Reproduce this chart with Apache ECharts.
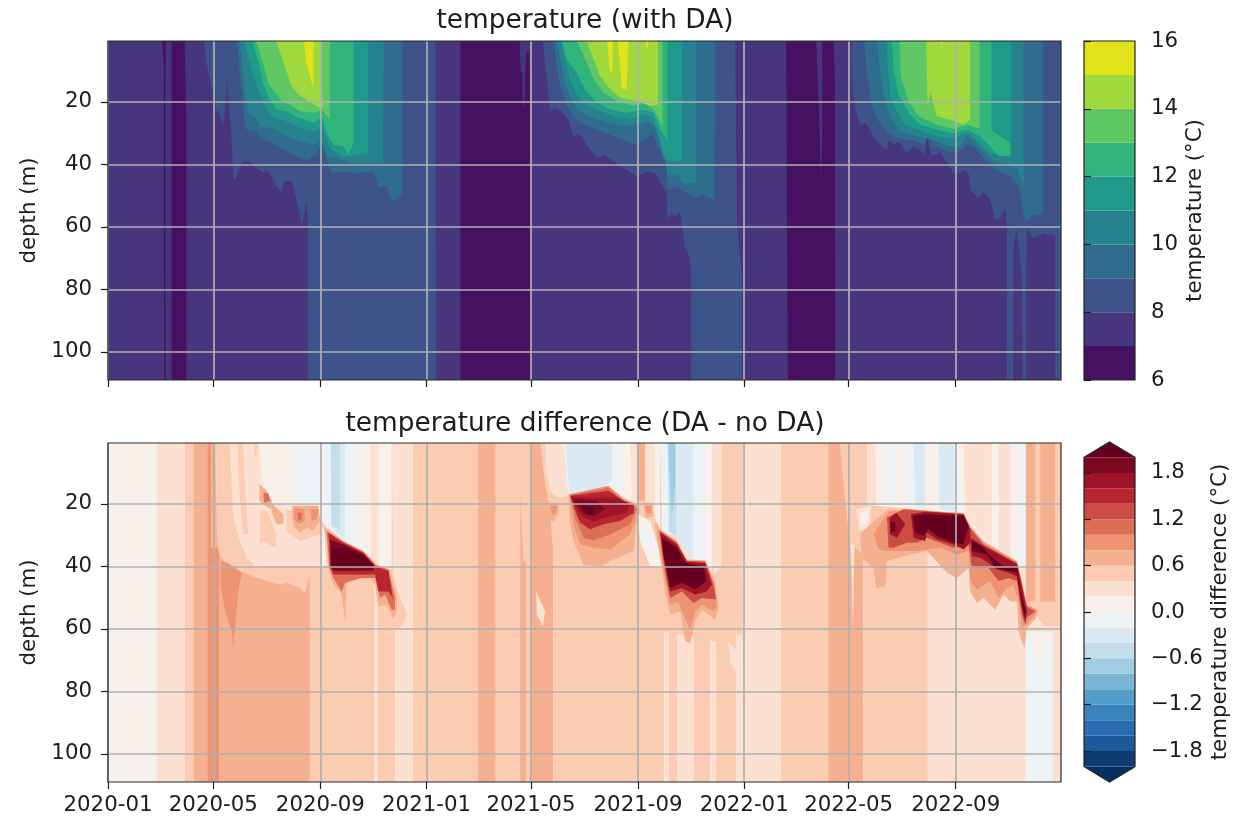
<!DOCTYPE html>
<html><head><meta charset="utf-8"><style>html,body{margin:0;background:#fff}#c{width:1258px;height:819px;filter:blur(0.45px)}</style>
<script src="https://cdn.jsdelivr.net/npm/echarts@6/dist/echarts.min.js"></script></head><body><div id="c"></div>
<script>
// x values are days since 2020-01-01, y values are depth in metres.
const startDate = '2020-01-01', endDay = 1095, depthMin = 0.5, depthMax = 109;
const xTickLabels = ['2020-01','2020-05','2020-09','2021-01','2021-05','2021-09','2022-01','2022-05','2022-09'];
const depthTicks = [20,40,60,80,100];
const tempLevels = [6,7,8,9,10,11,12,13,14,15,16];
const tempTicks = [6,8,10,12,14,16];
const tempColors = ['#461160','#47367e','#3e538a','#2f6c8d','#26828e','#1f9a8a','#30b47c','#5fc863','#9fd93c','#e2e318'];
const diffLevels = [-2,-1.8,-1.6,-1.4,-1.2,-1,-0.8,-0.6,-0.4,-0.2,0,0.2,0.4,0.6,0.8,1,1.2,1.4,1.6,1.8,2];
const diffTicks = [-1.8,-1.2,-0.6,0,0.6,1.2,1.8];
const diffColors = ['#053061','#0f3d6f','#1c5a9c','#2a6cb0','#3983bb','#549ec9','#7bb6d6','#a0cde2','#c2ddec','#dbe9f2','#edf2f5','#f7f0eb','#fce1d2','#fbcbb2','#f5b090','#ee9473','#dd6f57','#cb4d43','#b82631','#a0142a','#7d0822','#67001f'];

// Temperature: regions colder than 7 °C
const tempBelow7 = [
 [[62,.5],[67,.5],[66,7.5],[66,109],[64.4,109],[64,7.5]],
 [[73,.5],[88,.5],[90,24.6],[90,109],[73,109]],
 [[405,.5],[473,.5],[474,10.2],[476,10.7],[477,23],[479,18.2],[479.5,9.6],[481,3.7],[484,3.7],[485,22.5],[486,109],[405,109]],
 [[779.3,.5],[813.8,.5],[817.6,29],[819.1,46.2],[820.7,29],[820.7,.5],[833.7,.5],[835.2,12.8],[835.6,109],[781.2,109],[780,54.6]]
];
// Temperature: for each isotherm, warm region from surface down to that isotherm
const tempAbove8 = [
 [[110.3,.5],[113.4,7.5],[119,15],[123,20],[124,23.5],[127,22.5],[129.5,25.1],[132.5,27.3],[135.6,18.2],[137,12.8],[138.3,19.2],[141.4,28.9],[142.9,37.5],[144,44.4],[147,44.4],[151.7,40.1],[155.5,39],[161.3,39],[170.9,41.2],[178.5,42.6],[184.3,42],[190,45],[198.8,49],[202.3,45.5],[211,45.2],[216.8,51.4],[222.6,59.4],[226.4,54.6],[228.3,51.4],[229.9,60],[229.9,109],[377,109],[376,.5]],
 [[499.6,.5],[502,7.5],[505,15],[508,22.5],[514,22],[521.4,23],[529,25.7],[535,31],[541,30],[550,33.7],[562,38],[569.3,37],[585,39.6],[596,41.7],[608,43.9],[619,42.3],[629,42.8],[636.4,46.6],[642,49.2],[643,57.3],[648,55.7],[652,56.7],[657.4,55.1],[659.3,60],[663,66.4],[668,69.6],[670,73.9],[670,109],[728.3,109],[728,75],[722.6,58.9],[720.6,.5]],
 [[854,.5],[854.7,15],[858.6,22.5],[864.3,27.3],[870,26.7],[879.6,31],[885.4,33.2],[895,35.3],[896.9,32.1],[902.6,33.7],[908.4,32.6],[918,36.4],[925.6,34.2],[933.3,35.3],[939,37.5],[941,29.4],[942.9,33.7],[946.7,37.5],[956.3,35.9],[964,39.6],[973.5,43.4],[983,41.7],[988.8,42.8],[990.7,48.2],[1000.3,50.8],[1006,48.7],[1013.7,51.4],[1019.5,57.8],[1025.2,57.3],[1031,54],[1032.9,60],[1032.9,109],[1039.8,109],[1040.5,66.4],[1043.6,60.5],[1046.3,66.4],[1050.1,76],[1051.3,109],[1054.7,109],[1054.7,78],[1055.9,60.5],[1063.5,63.7],[1075,62],[1088.4,62.6],[1088.4,109],[1095,109],[1095,.5]]
];
const tempAbove9 = [
 [[148,.5],[150,5.3],[152,12.8],[155,20],[157,25.7],[159,29],[171,29.4],[175,31.6],[190,33.2],[205,35.9],[221,38],[230,38.7],[240,36.4],[246,33.7],[251,38.5],[257,42.8],[270,42.3],[286,42.8],[305,42.3],[311,47.3],[320,46.6],[327,52],[338,49.2],[338,.5]],
 [[512,.5],[515,7.5],[519.5,15],[527,20.9],[535,25.1],[546.3,27.3],[562,29],[581,31],[604,33.7],[615.3,32.6],[625,30],[631,33.2],[636.4,37.5],[642,40.1],[643,48],[652,47.1],[665,49.2],[675,50.8],[684,49.8],[696.5,51.2],[697.7,.5]],
 [[869,.5],[871.2,9.6],[877.7,21.4],[885.4,26.2],[895,29.4],[906.5,31.6],[921.8,32.1],[939,33.7],[942.9,29],[946.7,33.7],[964,35.9],[975.4,36.4],[987,33.7],[994.6,34.2],[1006,38],[1017.6,41.2],[1036.7,43.9],[1046.3,47.1],[1054,58.3],[1063.5,56.2],[1073.9,55.7],[1073.9,.5]]
];
const tempAbove10 = [
 [[151,.5],[154,7.5],[156,15],[159,19.8],[161,23.5],[171,25.1],[175,27.8],[190,28.4],[205,31],[221,32.6],[236,33.7],[244,32.1],[247,34.2],[253,38],[259,37.5],[282,39.6],[297,39.6],[316,39.6],[317,.5]],
 [[515.7,.5],[520.3,7.5],[525.3,13.9],[533,19.8],[542.5,23],[558,25.1],[577,26.8],[596,27.8],[608,27.3],[619,26.2],[627,27.3],[634.4,33.2],[640,38],[643,43.4],[653.6,43.4],[661,46],[676,46],[676,.5]],
 [[884.2,.5],[886.5,9.6],[893,20.3],[900.7,25.7],[910.3,29.4],[925.6,30.8],[939,31.6],[952.4,32.6],[964,34.2],[979.3,34.2],[987,31],[994.6,32.6],[1006,35.9],[1017.6,39],[1032.9,40.1],[1044.4,41.2],[1052,46.6],[1052,.5]]
];
const tempAbove11 = [
 [[156,.5],[163,7.5],[171,15],[178,19.8],[182,22.5],[190,25.1],[205,26.2],[221,28.4],[236,29.4],[246,27.8],[251,32.1],[257,35.3],[270,37.5],[282,37.2],[299,36.4],[299,.5]],
 [[520.3,.5],[525.3,6.4],[531,12.8],[538.7,17.6],[550,20.9],[565.5,23],[585,24.8],[600,25.5],[615.3,24.1],[625,24.6],[631,28.9],[638.3,37],[643,39],[659.3,39],[659.3,.5]],
 [[894.2,.5],[895.7,7.5],[898.8,18.2],[908.4,24.1],[918,27.8],[937.1,29.4],[952.4,31],[971.6,31.6],[987,30],[998.4,32.1],[1013.7,36.4],[1037.9,37.7],[1037.9,.5]]
];
const tempAbove12 = [
 [[166,.5],[173,7.5],[178,14],[186,19.3],[194,22.5],[205,23],[217,24.8],[236,26.7],[246,25.1],[251,30],[259,33.7],[270,34.2],[276,37],[282,33.2],[282,.5]],
 [[521.4,.5],[527,6.4],[538.7,10.7],[548.2,16],[558,19.2],[573.2,22],[596,23.5],[615.3,22.5],[627,23.5],[634.4,28.9],[643,32],[643,.5]],
 [[900.7,.5],[902.6,9.6],[908.4,17.6],[919.9,23.5],[933.3,27.3],[952.4,28.9],[971.6,30],[987,28.9],[1002.2,31],[1011.8,33.7],[1023.3,37.2],[1036.7,37.2],[1036.7,33.2],[1014.9,29],[1014.9,.5]]
];
const tempAbove13 = [
 [[170,.5],[178,7.5],[184,14],[194,17.6],[200,19.8],[209,20.9],[221,23],[236,23.5],[246,22.5],[255,25.7],[255,.5]],
 [[538.7,.5],[550,7.5],[558,12.8],[569.3,17.1],[585,19.8],[604,21.2],[615.3,20.3],[627,22.5],[637.1,27.8],[637,.5]],
 [[909.5,.5],[911,11.8],[919.9,19.8],[931.4,24.6],[952.4,27.3],[971.6,28.7],[987,27.3],[1001.5,28.4],[1001.5,.5]]
];
const tempAbove14 = [
 [[193,.5],[203,8.5],[211,15],[219,17.6],[228,19.3],[240,21.4],[246,22.3],[247,20.9],[244,12.8],[244,.5]],
 [[550,.5],[558,6.4],[565.5,11.8],[577,16],[588.5,18.7],[608,19.8],[623,21.2],[632,20.9],[632,.5]],
 [[940.2,.5],[941.7,21.4],[944.8,16.6],[952.4,24.6],[967.8,25.7],[983,27.3],[990.7,25.7],[990.7,.5]]
];
const tempAbove15 = [
 [[225,.5],[228,7.5],[233,12.8],[236,15.5],[236,.5]],
 [[573.2,.5],[577,10.2],[580,10.2],[580,.5]],
 [[585.8,.5],[590.4,15.5],[596,16],[598,.5]],
 [[618.4,.5],[619,2.7],[620.6,2.7],[621,.5]],
 [[956.3,.5],[958.2,2],[959.4,.5]]
];

// Difference: full-depth stripes (band lower edge between consecutive breaks)
const diffBreaks = [0,56,88.5,98,114,127.6,232,305.7,309.5,330,350,425,445.6,473.5,480.4,486.2,511.8,639,644.4,654.4,672.7,692,698.8,721.8,773,827.5,868,942,1054.7,1085.8,1095];
const diffBands  = [0,.2,.4,.6,.8,.6,.4,.2,.4,.2,.4,.6,.4,.6,.4,.6,.4,.2,.4,.2,.4,.2,.4,.2,.4,.6,.4,.2,-.2,.2];

// Difference: patches as [band lower edge, outline]
const diffPatches2020 = [
 [.6,[[114,.2],[118,.2],[118,34],[127.6,34],[127.6,.2]]],
 [.4,[[123,.2],[125,29.7],[127.6,36.2],[136.4,39.4],[151.7,41.5],[170.9,43.7],[197.7,45.8],[205.3,45.3],[220.7,46.9],[226.4,48.5],[232.2,42.6],[232.2,.2]]],
 [.8,[[129.5,38.3],[138.3,38.9],[153.6,42],[149.8,48],[146,59.7],[144,66.2],[142.1,60.8],[134.5,54.4],[129.5,45.8]]],
 [.2,[[140.2,.2],[142.1,13.7],[144,24.4],[151.7,31.9],[159.4,37.2],[170.9,40.5],[193.8,40],[220.7,40],[243.6,40.5],[245.6,25.5],[243.6,.2]]],
 [.4,[[148.6,.2],[151.7,19],[155.5,29.7],[161.3,29.7],[157.5,13.7],[154.8,.2]]],
 [.4,[[167.8,.2],[171.6,.2],[171.6,5.1],[169.3,5.1]]],
 [.4,[[174.7,22.3],[182.4,22.3],[193.8,29.7],[191.9,34],[178.5,31.9],[174.7,33]]],
 [.4,[[205.3,21.7],[245.6,24.4],[243.6,29.7],[220.7,31.9],[205.3,28.7]]],
 [0,[[173.9,.2],[176.6,11.5],[180.4,15.8],[190,19.6],[213,20.6],[239.8,20.6],[245.6,25.5],[251.3,27.6],[259,28.1],[270.5,31.9],[285.8,34.6],[306.9,39.4],[326,41],[326,.2]]],
 [0,[[244.4,26],[248.3,28.7],[251.3,39.4],[243.6,40.5]]],
 [-.2,[[213,.2],[216.8,19],[243.6,20.1],[243.6,.2]]],
 [-.2,[[245.6,.2],[246.7,26],[255.1,28.1],[270.5,31.9],[285.8,34.6],[285.8,.2]]],
 [-.4,[[255.9,.2],[256.7,27.6],[272.4,31.4],[272.4,.2]]],
 [-.6,[[255.9,.2],[256.7,27],[266.6,28.1],[266.6,.2]]],
 [.2,[[301.1,.2],[301.9,37.2],[310.7,40],[310.7,.2]]],
 [.2,[[326,.2],[327.2,41],[329.8,60.8],[329.8,.2]]],
 [.4,[[326,41],[335.6,50.1],[343.3,55],[339.4,58.7],[331.8,60.3],[327.9,60.3]]],
 [.6,[[173.9,13.7],[182.4,15.8],[188.1,19],[187,21.7],[178.5,20.1],[173.9,19]]],
 [1,[[178.5,16.4],[184.3,16.7],[186.2,19],[179.3,19.6]]],
 [.6,[[187,19.6],[193.8,21.2],[201.5,23.3],[201.5,26.5],[193.8,26.5],[188.1,22.8]]],
 [.6,[[211.1,20.6],[241.7,20.6],[243.6,25.5],[236,28.7],[228.3,27.6],[220.7,29.2],[213,27.1]]],
 [.8,[[214.9,21.2],[225.3,21.7],[226.4,25.5],[218.8,26.5],[213,24.4]]],
 [.8,[[232.2,21.7],[241.7,21.7],[239.8,25],[234.1,25.5]]],
 [1,[[217.6,22.8],[222.6,22.8],[222.6,25],[218.8,25.3]]],
 [.6,[[248.3,27.6],[255.1,28.7],[270.5,31.9],[293.5,35.1],[308.8,39.4],[324.1,41],[331.8,49],[331.8,54.4],[327.9,57],[320.3,52.2],[310.7,52.8],[306.9,45.8],[301.1,43.7],[274.3,44.7],[272.4,57.6],[268.5,49],[257.1,44.7],[253.2,40.5],[251.3,31.9]]],
 [1,[[251.3,28.7],[270.5,32.1],[293.5,35.3],[308,39.6],[322.2,41],[329.8,50.1],[329.8,53.9],[326,53.9],[318.4,49],[312.6,50.1],[306.9,43.7],[289.6,43.7],[272.4,45.3],[268.5,48],[259,43.7],[254.4,40.5],[252,31.9]]],
 [1.4,[[253.2,29.2],[270.5,32.4],[293.5,35.6],[306.9,39.9],[322.2,41.5],[327.2,50.1],[322.2,48],[310.7,48],[306.9,42.6],[259,42.6],[255.1,40],[254.4,33]]],
 [1.8,[[255.1,31.4],[270.5,33],[293.5,36],[305.7,39.6],[304.9,41.3],[259,41.5],[255.9,40]]],
 [2,[[257.1,34.6],[270.5,34],[293.5,36.7],[304.9,39.6],[303,40.2],[257.1,40],[256.3,37.3]]]
];
const diffPatches2021 = [
 [.4,[[471.6,.2],[481.2,.2],[481.2,38.3],[477.4,38.3],[474.3,21.7]]],
 [.4,[[496.5,.2],[502.3,13.7],[508,22.3],[511.8,37.2],[521.4,25.5],[529.1,19],[525.3,.2]]],
 [.2,[[502.3,.2],[502.3,8.3],[508,15.8],[517.6,18],[529.1,17.4],[527.2,.2]]],
 [.2,[[491.9,48],[502.3,54.4],[499.6,59.2],[492.7,55.5]]],
 [0,[[523.3,.2],[528,10.5],[531,16.9],[603.8,19],[600,.2]]],
 [-.2,[[523.3,.2],[529.1,16.9],[554,18.5],[573.1,14.2],[590.4,15.8],[590.4,.2]]],
 [-.4,[[525.3,.2],[530.2,16.4],[538.7,17.4],[554,18],[573.1,13.7],[578.9,12.6],[578.9,.2]]],
 [.2,[[600,.2],[601.9,19],[608.4,20.6],[608.4,.2]]],
 [.6,[[608.4,.2],[608.4,19],[617.2,19],[617.2,.2]]],
 [.2,[[617.2,.2],[617.2,19],[628.7,23.3],[627.6,.2]]],
 [0,[[627.6,.2],[628.7,24.4],[634.4,28.1],[634.4,.2]]],
 [0,[[608.4,23.3],[622.9,25.5],[632.5,34],[636.4,40.5],[622.9,40],[611.5,31.9]]],
 [-.2,[[609.5,27.6],[622.9,29.7],[626.8,34],[615.3,33.5]]],
 [.4,[[638.3,35.1],[699.6,40.5],[698.8,64],[661.3,61.9],[638.3,60.8]]],
 [-.2,[[634.4,.2],[636.4,28.7],[653.6,30.8],[672.7,37.8],[686.2,38.3],[686.2,.2]]],
 [-.4,[[642.9,.2],[644,28.7],[655.5,31.9],[672.7,37.8],[672.7,.2]]],
 [-.6,[[642.9,.2],[645.2,28.7],[652.8,30.3],[652.8,.2]]],
 [-.8,[[644,.2],[646,15.8],[647.9,24.4],[651.7,13.7],[651.7,.2]]],
 [0,[[686.2,.2],[686.2,38.3],[693.8,42.6],[693.8,.2]]],
 [.2,[[693.8,.2],[695.5,42.6],[705.1,40.5],[705.1,.2]]],
 [.4,[[721.8,.2],[729.1,.2],[729.1,61.9],[721.8,61.9]]],
 [.2,[[712.2,64],[724.5,67.2],[720.6,73.7],[714.9,70.5]]],
 [.6,[[506.1,20.1],[517.6,19.6],[517.6,22.8],[511.8,25.7],[507.2,25]]],
 [.8,[[508.8,20.6],[516.4,20.6],[513.8,23.3],[510,23.3]]],
 [.6,[[529.1,16.9],[577,14.8],[592.3,18],[604.6,19.6],[611.5,21.7],[606.9,26.5],[603.8,35.1],[580.8,37.8],[565.5,40],[546.3,39.4],[534.8,31.9],[530.2,25.5]]],
 [.8,[[530.2,16.9],[575,14.2],[592.3,18.5],[604.6,20],[609.5,21.7],[605.7,25.5],[600,29.7],[577,34.6],[557.8,34],[542.5,33],[534.8,26.5]]],
 [1,[[531,17.1],[575,14.8],[592.3,18.8],[603.8,20.1],[607.6,21.7],[600,26.5],[577,29.7],[557.8,31.7],[546.3,30.8],[536.7,24.4]]],
 [1.4,[[531,17.4],[575,15.8],[592.3,19],[603.8,20.3],[604.6,22.8],[588.5,25.5],[569.3,26.5],[554,28.1],[542.5,26],[534.8,20.6]]],
 [1.6,[[531.8,17.8],[584.6,18],[600,20],[596.1,22.8],[577,23.9],[557.8,25.7],[544.4,23.9],[536.7,20.6]]],
 [1.8,[[534.8,18.5],[561.7,19],[571.2,21.7],[559.7,23.9],[548.2,23.3],[540.6,21.2]]],
 [2,[[544.4,20.6],[557.8,21.2],[557.8,23.3],[550.2,23.3]]],
 [.6,[[615.3,19.6],[626,19.6],[626,23.9],[617.2,24.4]]],
 [.8,[[617.2,20.6],[624.9,20.6],[623.7,23.1],[619.1,23.1]]],
 [.6,[[627.6,25.5],[634.4,28.1],[653.6,31.9],[665.1,37.8],[686.2,38.1],[697.7,44.7],[701.5,53.3],[697.7,57],[682.3,53.9],[674.7,57.6],[668.9,64.6],[663.2,64],[657.4,54.4],[645.9,55.5],[640.2,48],[636.4,40.5],[632.5,34]]],
 [.8,[[631.4,28.1],[653.6,32.1],[665.1,38.1],[686.2,38.3],[696.5,45.3],[699.6,52.8],[695.7,54.4],[682.3,52.2],[674.7,54.4],[668.9,60.3],[661.3,55.5],[655.5,51.2],[645.9,52.2],[640.2,44.7],[636.4,38.3]]],
 [1.2,[[633.7,28.5],[653.6,32.4],[665.1,38.3],[686.2,38.5],[695.7,45.8],[698.8,50.6],[682.3,50.1],[672.7,51.7],[659.3,48],[645.9,50.1],[641.3,43.7],[637.5,37.2]]],
 [1.6,[[634.4,29.2],[653.6,33],[665.1,38.5],[686.2,38.9],[693.8,45.8],[688.1,48],[674.7,49],[659.3,46.9],[645.9,48],[642.1,42.6],[638.3,37.2]]],
 [2,[[636.4,30.8],[653.6,34],[663.2,38.9],[684.3,40],[688.1,44.7],[674.7,47.4],[659.3,45.3],[645.9,46.9],[642.1,41.5],[638.3,36.2]]]
];
const diffPatches2022 = [
 [.4,[[840.6,.2],[849,24.4],[852.8,33],[868.2,36.2],[868.2,.2]]],
 [.2,[[852.8,33],[858,33],[857,42.6],[855.9,60.8],[854.5,42.6]]],
 [.2,[[872,.2],[872,20.6],[882.7,20.6],[882.7,.2]]],
 [0,[[881.6,.2],[882.7,20.6],[925.6,21.7],[983.1,22.8],[990.7,26.5],[1006.1,31.9],[1044.4,38.3],[1047.5,40.5],[1054,40.5],[1054.7,.2]]],
 [.2,[[983.1,.2],[985,23.3],[998.4,28.1],[1015.6,33],[1015.6,.2]]],
 [.2,[[1023.3,.2],[1023.3,34],[1036.7,37.8],[1036.7,.2]]],
 [-.2,[[893.1,.2],[895,20.1],[925.6,21.4],[939,21.4],[939,.2]]],
 [-.2,[[954.3,.2],[954.3,21.7],[983.1,22.8],[972.4,.2]]],
 [-.2,[[1047.5,.2],[1047.5,40.5],[1054,40.5],[1054,.2]]],
 [0,[[904.6,.2],[906.5,20.1],[918,20.6],[918,.2]]],
 [-.4,[[925.6,.2],[927.5,20.6],[939,21.4],[939,.2]]],
 [-.4,[[954.3,.2],[955.5,21.7],[972.4,22.3],[972.4,.2]]],
 [.2,[[859.7,21.7],[876.6,20.6],[875.8,27.6],[862.4,28.7]]],
 [0,[[863.6,23.3],[873.9,21.7],[872,26.5],[865.1,27]]],
 [.4,[[1054.7,.2],[1055.1,52.2],[1067.4,56],[1075,59.2],[1094.2,59.2],[1095,.2]]],
 [.6,[[1054.7,.2],[1054.7,51.2],[1065.5,51.2],[1065.5,.2]]],
 [.6,[[1071.2,.2],[1071.2,51.2],[1088.4,51.2],[1088.4,.2]]],
 [.2,[[1054.7,51.7],[1067.4,56.5],[1075,59.5],[1095,59.5],[1095,61],[1054.7,61]]],
 [0,[[1059.7,60.8],[1084.6,60.8],[1075,70.5],[1067.4,72.6],[1061.6,66.2]]],
 [.6,[[864.3,29.7],[879.6,25.5],[896.9,21.7],[921.8,22.3],[983.1,22.8],[990.7,27.1],[1006.1,31.9],[1044.4,38.3],[1050.1,44.7],[1055.9,52.2],[1069.3,54.4],[1065.5,57],[1055.9,59.7],[1052.8,66.2],[1046.3,60.8],[1044.4,51.2],[1036.7,51.2],[1029.1,49],[1019.5,53.9],[1006.1,50.1],[998.4,51.7],[990.7,48],[988.8,40.5],[975.4,43.7],[963.9,42],[941,35.1],[921.8,36.2],[895,38.3],[893.1,46.3],[882.7,46.9],[879.6,40.5],[866.2,37.2]]],
 [.8,[[879.6,29.7],[896.9,22.5],[917.9,21.7],[983.1,23.1],[990.7,27.4],[1006.1,32.4],[1044.4,38.5],[1050.1,45.3],[1055.1,52.2],[1067.4,53.9],[1063.5,56],[1055.1,58.7],[1050.1,59.2],[1046.3,51.2],[1040.5,45.8],[1032.9,46.9],[1023.3,50.1],[1013.7,44.7],[998.4,47.4],[990.7,44.7],[988.8,35.1],[975.4,36.2],[956.3,34],[929.5,35.1],[898.8,35.1],[893.1,35.1],[885.4,34.6]]],
 [1.2,[[895,24.4],[914.1,21.7],[983.1,23.3],[990.7,27.8],[1006.1,33],[1044.4,38.9],[1050.1,45.8],[1055.9,52.8],[1065.5,54.4],[1055.9,56.3],[1053.9,58.7],[1050.1,55.5],[1044.4,44.7],[1034.8,43.7],[1023.3,44.7],[1011.8,40.5],[992.7,40.5],[988.8,33],[971.6,34],[941,30.8],[929.5,32.4],[917.9,32.4],[902.6,34],[896.9,34]]],
 [1.6,[[898,24.4],[905.7,22.8],[916,26.5],[906.5,30.8],[898.8,29.7]]],
 [1.6,[[922.6,23.3],[939,22.5],[983,23.3],[990.7,28.1],[990.7,32.4],[983.1,34.6],[971.6,33],[952.4,31.4],[941,29.2],[939,31.9],[925.6,30.8]]],
 [1.6,[[990.7,30.8],[1006.1,33.5],[1044.4,39.2],[1050.1,46.4],[1055.9,54.4],[1053.9,57.6],[1049,52.2],[1044.4,43.2],[1034.8,42],[1021.4,41],[1011.8,38.9],[1002.2,37.2],[992.7,36.7]]],
 [2,[[898.8,25.7],[904.6,25.7],[904.6,28.7],[899.6,29.2]]],
 [2,[[924.5,23.9],[939,23.3],[983.1,23.9],[988.8,27.1],[983.1,33],[971.6,32.4],[952.4,30.3],[942.9,28.1],[937.1,30.3],[927.5,29.2]]],
 [2,[[992.7,31.9],[1004.2,33.5],[1013.7,36.7],[1029,40],[1044.4,40],[1048.2,48],[1055.1,54.4],[1052.8,56],[1046.3,45.8],[1044.4,42],[1019.5,40.5],[1009.9,36.2],[992.7,35.1]]]
];

const day0 = Date.parse(startDate + 'T00:00:00Z');
const T = d => day0 + d * 864e5;
const monthMs = s => Date.parse(s + '-01T00:00:00Z');
const xTicks = xTickLabels.map(monthMs);
const diffColorOf = v => diffColors[Math.round((v + 2) / 0.2) + 1];
const ink = '#1c1c1c', fs = 21.3;
const fnt = {fontFamily:'DejaVu Sans', fontSize:fs, color:ink};

function rectPts(x0, x1, y0, y1){ return [[x0,y0],[x1,y0],[x1,y1],[x0,y1]]; }

// Painter's-order filled regions
const tempItems = [{fill:tempColors[1], pts:rectPts(0,endDay,depthMin,depthMax)}];
tempBelow7.forEach(p => tempItems.push({fill:tempColors[0], pts:p}));
[tempAbove8,tempAbove9,tempAbove10,tempAbove11,tempAbove12,tempAbove13,tempAbove14,tempAbove15].forEach((g,i) =>
  g.forEach(p => tempItems.push({fill:tempColors[i+2], pts:p})));
const diffItems = [];
diffBands.forEach((b,i) => diffItems.push({fill:diffColorOf(b), pts:rectPts(diffBreaks[i],diffBreaks[i+1],depthMin,depthMax)}));
[diffPatches2020,diffPatches2021,diffPatches2022].forEach(g => g.forEach(([b,p]) => diffItems.push({fill:diffColorOf(b), pts:p})));

function regionSeries(ax, items){
  return {type:'custom', coordinateSystem:'cartesian2d', xAxisIndex:ax, yAxisIndex:ax, clip:true, silent:true, z:2,
    animation:false, data:items.map(it => [T(it.pts[0][0]), it.pts[0][1]]), encode:{x:0,y:1},
    renderItem:(p,api)=>{ const it=items[p.dataIndex];
      return {type:'polygon', z2:p.dataIndex, shape:{points:it.pts.map(q=>api.coord([T(q[0]),q[1]]))}, style:{fill:it.fill}}; }};
}
function frameSeries(ax){
  return {type:'custom', coordinateSystem:'cartesian2d', xAxisIndex:ax, yAxisIndex:ax, silent:true, z:8, animation:false, clip:false,
    data:[[T(0), depthMin]], encode:{x:0,y:1},
    renderItem:(p)=>{ const c=p.coordSys; return {type:'rect', shape:{x:c.x,y:c.y,width:c.width,height:c.height}, style:{fill:'none',stroke:'#2a2a2a',lineWidth:1.2}}; }};
}
function barSeries(ax, items){
  return {type:'custom', coordinateSystem:'cartesian2d', xAxisIndex:ax, yAxisIndex:ax, silent:true, z:2, animation:false, clip:false,
    data:items.map(it=>[it.pts[0][0],it.pts[0][1]]), encode:{x:0,y:1},
    renderItem:(p,api)=>{ const it=items[p.dataIndex];
      return {type:'polygon', z2:p.dataIndex, shape:{points:it.pts.map(q=>api.coord(q))}, style:{fill:it.fill, stroke:it.stroke||'none', lineWidth:it.stroke?1.2:0}}; }};
}
const tempBar = tempColors.map((c,i)=>({fill:c, pts:rectPts(0,1,tempLevels[i],tempLevels[i+1])}));
tempBar.push({fill:'none', stroke:'#222', pts:rectPts(0,1,tempLevels[0],tempLevels[10])});
const diffBar = [{fill:diffColors[0], pts:[[0,-2],[1,-2],[.5,-2.2]]}];
for(let i=0;i<20;i++) diffBar.push({fill:diffColors[i+1], pts:rectPts(0,1,diffLevels[i],diffLevels[i+1])});
diffBar.push({fill:diffColors[21], pts:[[0,2],[1,2],[.5,2.2]]});
diffBar.push({fill:'none', stroke:'#222', pts:[[0,-2],[.5,-2.2],[1,-2],[1,2],[.5,2.2],[0,2]]});

const fmtMonth = v => { const d=new Date(v); return d.getUTCFullYear()+'-'+String(d.getUTCMonth()+1).padStart(2,'0'); };
const tickStyle = {show:true, length:7, lineStyle:{color:ink,width:1.2}};
const gridLine = {show:true, lineStyle:{color:'#b0b0b0',width:1.7}};
const yLabelPad = [4,0,0,0];
function xAxis(gi, showLabel){
  return {type:'value', gridIndex:gi, min:T(0), max:T(endDay), z:5, axisLine:{show:false},
    axisTick:{...tickStyle, customValues:xTicks}, splitLine:gridLine, minorTick:{show:false},
    axisLabel:{show:showLabel, customValues:xTicks, formatter:fmtMonth, margin:13, hideOverlap:false, showMinLabel:true, showMaxLabel:true, ...fnt}};
}
function yAxis(gi){
  return {type:'value', gridIndex:gi, inverse:true, min:depthMin, max:depthMax, z:5, axisLine:{show:false},
    axisTick:{...tickStyle, customValues:depthTicks}, splitLine:gridLine,
    axisLabel:{customValues:depthTicks, margin:16, padding:yLabelPad, hideOverlap:false, ...fnt},
    name:'depth (m)', nameLocation:'middle', nameRotate:90, nameGap:67.5, nameTextStyle:{...fnt}};
}
const titleStyle = {fontFamily:'DejaVu Sans',fontSize:26.4,fontWeight:'normal',color:ink};
const option = {
  animation:false, backgroundColor:'#fff',
  title:[
    {text:'temperature (with DA)', left:580, top:3, textAlign:'center', textStyle:titleStyle},
    {text:'temperature difference (DA - no DA)', left:580, top:406, textAlign:'center', textStyle:titleStyle}
  ],
  grid:[
    {left:108,top:41,width:953,height:339},
    {left:108,top:443,width:953,height:339},
    {left:1084,top:41,width:51,height:339},
    {left:1084,top:442,width:51,height:340}
  ],
  xAxis:[xAxis(0,false), xAxis(1,true),
    {type:'value',gridIndex:2,min:0,max:1,show:false},
    {type:'value',gridIndex:3,min:0,max:1,show:false}],
  yAxis:[yAxis(0), yAxis(1),
    {type:'value',gridIndex:2,position:'right',min:6,max:16,z:5,axisLine:{show:false},splitLine:{show:false},
      axisTick:{...tickStyle,customValues:tempTicks},
      axisLabel:{customValues:tempTicks,margin:16,padding:yLabelPad,hideOverlap:false,...fnt},
      name:'temperature (°C)',nameLocation:'middle',nameRotate:90,nameGap:49.5,nameTextStyle:{...fnt}},
    {type:'value',gridIndex:3,position:'right',min:-2.2,max:2.2,z:5,axisLine:{show:false},splitLine:{show:false},
      axisTick:{...tickStyle,customValues:diffTicks},
      axisLabel:{customValues:diffTicks,margin:16,padding:yLabelPad,hideOverlap:false,formatter:v=>v.toFixed(1).replace('-','\u2212'),...fnt},
      name:'temperature difference (°C)',nameLocation:'middle',nameRotate:90,nameGap:74.5,nameTextStyle:{...fnt}}],
  series:[regionSeries(0,tempItems), regionSeries(1,diffItems), frameSeries(0), frameSeries(1), barSeries(2,tempBar), barSeries(3,diffBar)]
};
echarts.init(document.getElementById('c'),null,{renderer:'canvas'}).setOption(option);
</script></body></html>
